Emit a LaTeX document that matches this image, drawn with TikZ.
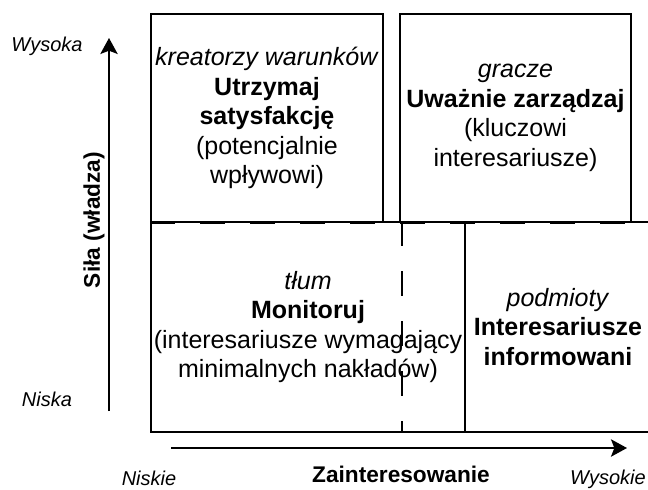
\documentclass[tikz,border=0pt]{standalone}
\usepackage{fontspec}
\setmainfont{Liberation Sans}
\usetikzlibrary{arrows.meta,positioning}
\newlength\qpx
\setlength\qpx{0.75pt}

\begin{document}
\begin{tikzpicture}[
    x=0.75pt, y=-0.75pt,
    quad/.style={draw, line width=1.5pt, align=center, anchor=north west, inner sep=0pt, font=\fontsize{18.75}{22.1}\selectfont},
    lvl/.style={anchor=base, inner sep=0.5pt, font=\fontsize{15}{18}\selectfont\itshape},
    axtitle/.style={font=\fontsize{17}{20}\selectfont\bfseries},
    ax/.style={-{Stealth[length=12pt, width=13pt, inset=2.5pt]}, line width=1.5pt},
    divider/.style={line width=#1, dash pattern=on 18.75pt off 18.75pt}
]
\useasboundingbox (0,0) rectangle (648,489);

% quadrants
\node[quad, minimum width=314\qpx, minimum height=210\qpx] (monitor) at (150,221) {\textit{tłum}\\\textbf{Monitoruj}\\(interesariusze wymagający\\minimalnych nakładów)};
\node[quad, minimum width=186\qpx, minimum height=210\qpx] (inform) at (464,221) {\textit{podmioty}\\\textbf{Interesariusze}\\\textbf{informowani}};
\node[quad, minimum width=232\qpx, minimum height=208\qpx] (satisfy) at (150,13) {\textit{kreatorzy warunków}\\\textbf{Utrzymaj}\\\textbf{satysfakcję}\\(potencjalnie\\wpływowi)};
\node[quad, minimum width=231\qpx, minimum height=208\qpx] (manage) at (399,13) {\textit{gracze}\\\textbf{Uważnie zarządzaj}\\(kluczowi\\interesariusze)};

% dashed dividers
\coordinate (dtop) at (402,221);
\coordinate (dbot) at (402,431);
\draw[divider=2.5pt] ([yshift=-1.5\qpx]monitor.north west) -- ([yshift=-1.5\qpx]inform.north east);
\draw[divider=2pt] (dtop) -- (dbot);

% axes
\coordinate (pbot) at (109,411);
\coordinate (ptop) at (109,38);
\coordinate (ileft) at (171,448);
\coordinate (iright) at (627,448);
\draw[ax] (pbot) -- (ptop);
\draw[ax] (ileft) -- (iright);

\node[lvl] (high) at (47,51.5) {Wysoka};
\node[lvl] (low) at (47,406.5) {Niska};
\node[axtitle, rotate=90] (power) at (94,220) {Siła (władza)};
\node[lvl] (lowint) at (149,485) {Niskie};
\node[axtitle, anchor=base] (interest) at (401,482) {Zainteresowanie};
\node[lvl] (highint) at (608,484.5) {Wysokie};
\end{tikzpicture}
\end{document}
